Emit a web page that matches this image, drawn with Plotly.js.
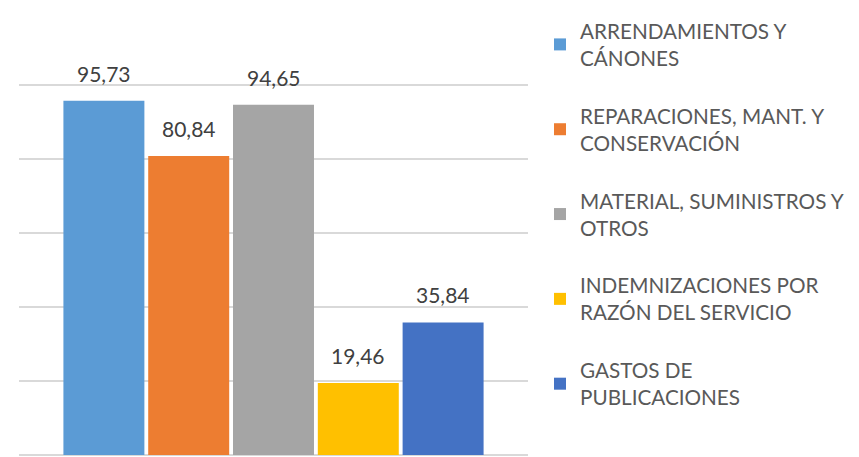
<!DOCTYPE html>
<html>
<head>
<meta charset="utf-8">
<script src="https://cdn.plot.ly/plotly-3.0.1.min.js"></script>
<style>html,body{margin:0;padding:0;background:#fff;}#chart{width:859px;height:457px;}</style>
</head>
<body>
<div id="chart"></div>
<script>
var seriesNames = [
  "ARRENDAMIENTOS Y<br>CÁNONES",
  "REPARACIONES, MANT. Y<br>CONSERVACIÓN",
  "MATERIAL, SUMINISTROS Y<br>OTROS",
  "INDEMNIZACIONES POR<br>RAZÓN DEL SERVICIO",
  "GASTOS DE<br>PUBLICACIONES"
];
var seriesValues = [95.73, 80.84, 94.65, 19.46, 35.84];
var seriesColors = ["#5b9bd5", "#ed7d31", "#a5a5a5", "#ffc000", "#4472c4"];
var category = ["Total"];

var FONT = "Lato, 'Open Sans', sans-serif";

var traces = seriesNames.map(function (name, i) {
  return {
    type: "bar",
    name: name,
    x: category,
    y: [seriesValues[i]],
    marker: { color: seriesColors[i] },
    legendgroup: "g" + i,
    hoverinfo: "skip"
  };
});

var layout = {
  width: 859,
  height: 457,
  margin: { l: 19, r: 331, t: 11, b: 2, pad: 0, autoexpand: false },
  paper_bgcolor: "#ffffff",
  plot_bgcolor: "#ffffff",
  separators: ",.",
  barmode: "group",
  bargap: 0.167,
  bargroupgap: 0.045,
  font: { family: FONT, color: "#595959" },
  xaxis: { showticklabels: false, ticks: "", showgrid: false, zeroline: false, showline: false, fixedrange: true },
  yaxis: {
    range: [0, 120],
    dtick: 20,
    showticklabels: false,
    ticks: "",
    showgrid: true,
    gridcolor: "#d9d9d9",
    gridwidth: 1.5,
    zeroline: true,
    zerolinecolor: "#d9d9d9",
    zerolinewidth: 1.5,
    showline: false,
    fixedrange: true
  },
  showlegend: true,
  legend: {
    x: 1.0236,
    xanchor: "left",
    y: 1.0,
    yanchor: "top",
    font: { family: FONT, size: 20.7, color: "#595959" },
    tracegroupgap: 28,
    bgcolor: "rgba(0,0,0,0)"
  },
  annotations: seriesValues.map(function (v, i) {
    return {
      x: category[0],
      y: v,
      xref: "x",
      yref: "y",
      text: v.toFixed(2).replace(".", ","),
      showarrow: false,
      yanchor: "bottom",
      yshift: 13,
      xshift: (i - 2) * 84.8,
      font: { family: FONT, size: 21, color: "#404040" }
    };
  })
};

Plotly.newPlot("chart", traces, layout, { displayModeBar: false, staticPlot: true });
</script>
</body>
</html>
